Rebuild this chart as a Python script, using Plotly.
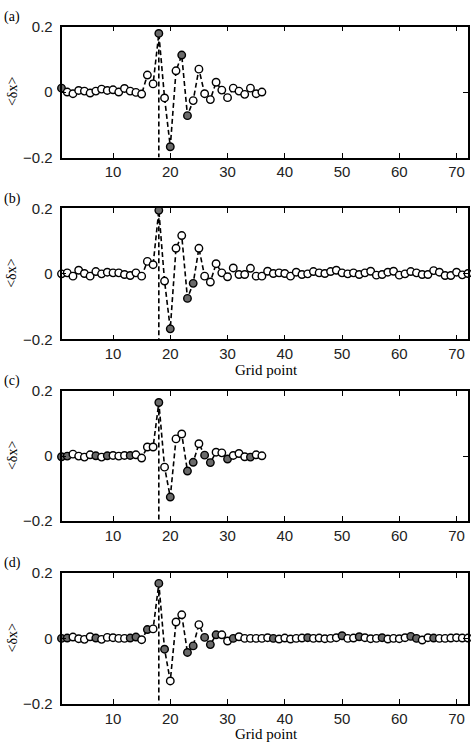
import plotly.graph_objects as go

# ---------------- data ----------------
grid_a = list(range(1, 37))
vals_a = [0.012, 0.0, -0.005, 0.005, 0.003, -0.003, 0.003, 0.009, 0.005, 0.007,
          0.0, 0.011, 0.003, -0.001, -0.006, 0.052, 0.025, 0.179, -0.018, -0.167,
          0.065, 0.113, -0.072, -0.026, 0.070, -0.005, -0.023, 0.030, 0.006, -0.017,
          0.012, 0.003, -0.007, 0.012, -0.005, 0.0]
filled_a = [1, 18, 20, 22, 23]

grid_b = list(range(1, 73))
vals_b = [0.0, 0.003, -0.007, 0.011, 0.001, -0.007, 0.007, 0.0, 0.005, 0.003,
          0.003, -0.002, -0.005, 0.003, -0.007, 0.038, 0.028, 0.194, -0.022, -0.168,
          0.078, 0.117, -0.075, -0.029, 0.078, -0.007, -0.025, 0.031, 0.003, -0.009,
          0.018, -0.002, -0.002, 0.017, -0.007, -0.007, 0.008, 0.001, 0.003, 0.001,
          -0.007, 0.005, -0.002, 0.0, 0.007, 0.003, 0.001, 0.007, 0.011, 0.003,
          0.0, 0.003, -0.002, 0.003, 0.008, -0.004, -0.002, 0.005, 0.008, -0.004,
          0.0, 0.007, 0.003, -0.002, -0.002, 0.010, 0.005, -0.005, -0.005, 0.005,
          -0.003, 0.001]
filled_b = [18, 20, 23, 24]

grid_c = list(range(1, 37))
vals_c = [-0.002, 0.0, 0.006, 0.0, -0.003, 0.004, 0.001, -0.003, 0.001, 0.002,
          0.0, 0.002, 0.002, 0.004, -0.006, 0.028, 0.028, 0.165, -0.034, -0.126,
          0.053, 0.068, -0.046, -0.019, 0.038, 0.003, -0.020, 0.012, 0.010, -0.009,
          0.002, 0.008, -0.002, -0.003, 0.004, 0.001]
filled_c = [1, 2, 7, 9, 13, 18, 20, 23, 24, 26, 27, 30, 34]

grid_d = list(range(1, 73))
vals_d = [0.0, 0.001, 0.004, -0.001, -0.003, 0.005, 0.001, -0.003, 0.003, 0.002,
          0.0, 0.0, 0.001, 0.004, -0.004, 0.027, 0.029, 0.168, -0.033, -0.130,
          0.050, 0.072, -0.043, -0.023, 0.042, 0.003, -0.019, 0.011, 0.011, -0.008,
          0.0, 0.005, 0.0, 0.0, 0.0, 0.0, 0.002, 0.0, -0.002, 0.001,
          -0.002, 0.0, 0.001, 0.002, 0.0, 0.001, -0.001, 0.0, 0.002, 0.008,
          0.0, 0.001, 0.005, 0.002, -0.001, 0.0, 0.002, -0.002, 0.0, -0.001,
          0.002, 0.006, 0.0, -0.005, 0.002, 0.001, 0.0, 0.0, 0.001, 0.002,
          0.001, 0.001]
filled_d = [1, 2, 7, 13, 14, 16, 18, 19, 23, 24, 26, 27, 28, 31, 38, 44, 50, 53, 57, 62, 63, 66]

obs_point = 18
panel_labels = ["(a)", "(b)", "(c)", "(d)"]
x_ticks = [10, 20, 30, 40, 50, 60, 70]
y_ticks = [-0.2, 0, 0.2]
y_ticktext = ["\u22120.2", "0", "0.2"]
x_range = [1, 72]
y_range = [-0.2, 0.2]
y_title = "<\u03b4x>"
x_title = "Grid point"

panels = [(grid_a, vals_a, filled_a), (grid_b, vals_b, filled_b),
          (grid_c, vals_c, filled_c), (grid_d, vals_d, filled_d)]

# ---------------- layout geometry (pixels) ----------------
W, H = 471, 749
x_left, x_right = 61.5, 468
panel_px = [(18, 152), (204, 338), (391, 524), (577, 711)]

fig = go.Figure()
layout = dict(width=W, height=H, margin=dict(l=0, r=0, t=0, b=0),
              paper_bgcolor="white", plot_bgcolor="white", showlegend=False)
annotations = []
for i, ((g, v, f), (top, bot)) in enumerate(zip(panels, panel_px)):
    n = "" if i == 0 else str(i + 1)
    xa, ya = "x" + n, "y" + n
    # dashed connecting line
    fig.add_trace(go.Scatter(x=g, y=v, mode="lines", xaxis=xa, yaxis=ya,
                             line=dict(color="black", width=1.6, dash="5px,3px"),
                             hoverinfo="skip"))
    # vertical dashed line at observation point
    iv = g.index(obs_point)
    fig.add_trace(go.Scatter(x=[obs_point, obs_point], y=[v[iv], y_range[0]], mode="lines",
                             xaxis=xa, yaxis=ya,
                             line=dict(color="black", width=1.6, dash="5px,3px"),
                             hoverinfo="skip"))
    # circles
    fill = ["#6a6a6a" if gg in f else "white" for gg in g]
    fig.add_trace(go.Scatter(x=g, y=v, mode="markers", xaxis=xa, yaxis=ya,
                             cliponaxis=False,
                             marker=dict(symbol="circle", size=7.5, color=fill,
                                         line=dict(color="black", width=1.4))))
    yd = [1 - bot / H, 1 - top / H]
    layout["xaxis" + n] = dict(domain=[x_left / W, x_right / W], range=x_range,
                               anchor=ya, tickvals=x_ticks, ticks="inside", ticklen=5,
                               tickwidth=1.2, tickcolor="black",
                               showline=True, linecolor="black", linewidth=1.6,
                               mirror="ticks", showgrid=False, zeroline=False,
                               tickfont=dict(family="Liberation Sans", size=15, color="#222"))
    layout["yaxis" + n] = dict(domain=yd, range=y_range, anchor=xa,
                               tickvals=y_ticks, ticktext=y_ticktext, ticks="inside",
                               ticklen=5, tickwidth=1.2, tickcolor="black",
                               ticklabelstandoff=4,
                               showline=True, linecolor="black", linewidth=1.6,
                               mirror="ticks", showgrid=False, zeroline=False,
                               tickfont=dict(family="Liberation Sans", size=15, color="#222"))
    # panel label
    annotations.append(dict(text=panel_labels[i], xref="paper", yref="paper",
                            x=2 / W, y=1 - (top - 10) / H, xanchor="left", yanchor="middle",
                            showarrow=False,
                            font=dict(family="Liberation Serif", size=14, color="black")))
    # y title
    annotations.append(dict(text=y_title, xref="paper", yref="paper",
                            x=12 / W, y=1 - ((top + bot) / 2) / H, xanchor="center",
                            yanchor="middle", textangle=-90, showarrow=False,
                            font=dict(family="Liberation Serif", size=14, color="black")))
    if i in (1, 3):
        annotations.append(dict(text=x_title, xref="paper", yref="paper",
                                x=266 / W, y=1 - (bot + 31) / H, xanchor="center",
                                yanchor="middle", showarrow=False,
                                font=dict(family="Liberation Serif", size=15, color="black")))

layout["annotations"] = annotations
fig.update_layout(**layout)
fig.write_html("out.html")
